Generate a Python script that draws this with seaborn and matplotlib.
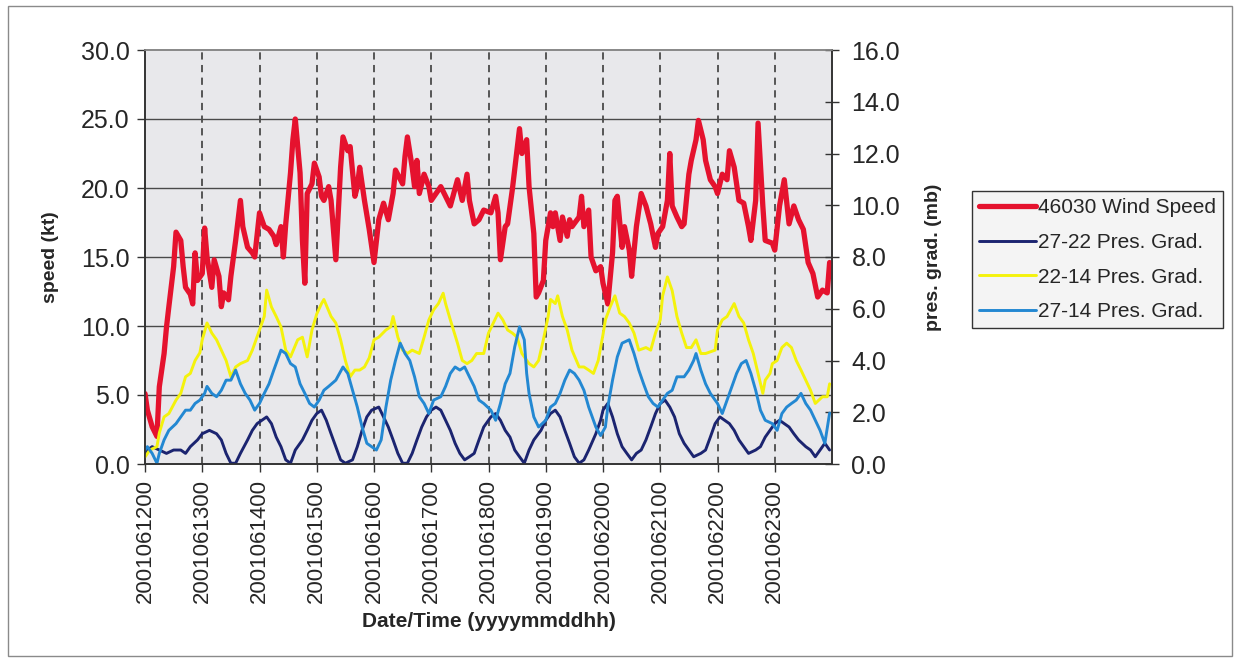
import matplotlib.pyplot as plt
import matplotlib.patches as mpatches
import seaborn as sns

# hours since 2001061200 and values
wind_hours = [0, 1, 3, 5, 6, 8, 9, 10, 12, 13, 15, 16, 17, 19, 20, 21, 22, 24, 25, 26, 28, 29, 31, 32, 33, 35, 36, 38, 40, 41,
              43, 45, 46, 48, 50, 52, 54, 55, 57, 58, 59, 61, 62, 63, 65, 66, 67, 68, 70, 71, 73, 74, 75, 77, 78, 80, 82, 83, 85, 86,
              88, 89, 90, 92, 94, 96, 98, 100, 102, 104, 105, 108, 109, 110, 112, 113, 114, 115, 117, 119, 120, 122, 124, 126, 128, 131, 133, 135, 136, 138,
              140, 142, 145, 147, 148, 149, 151, 152, 154, 156, 157, 158, 160, 161, 163, 164, 165, 167, 168, 170, 171, 172, 174, 175, 177, 178, 179, 182, 183, 184,
              186, 187, 189, 191, 192, 194, 196, 197, 198, 200, 201, 203, 204, 206, 208, 210, 212, 214, 215, 217, 219, 220, 221, 223, 225, 226, 228, 229, 231, 232,
              234, 235, 237, 239, 240, 242, 244, 245, 247, 249, 251, 253, 254, 256, 257, 259, 260, 263, 264, 266, 268, 270, 272, 274, 276, 278, 280, 282, 284, 286, 287]
wind_speed = [5.1, 3.9, 2.7, 2.0, 5.6, 8.0, 9.9, 11.4, 14.3, 16.8, 16.2, 14.3, 12.8, 12.3, 11.6, 15.3, 13.3, 13.8, 17.1, 15.0, 12.8, 14.8, 13.6, 11.4, 12.4, 11.9, 13.6, 16.2, 19.1, 17.2,
              15.7, 15.3, 15.0, 18.2, 17.2, 17.0, 16.5, 15.9, 17.2, 15.0, 17.4, 21.1, 23.5, 25.0, 21.1, 16.2, 13.1, 19.6, 20.3, 21.8, 20.8, 19.4, 19.1, 20.1, 19.1, 14.8, 21.5, 23.7, 22.7, 23.0,
              19.4, 20.1, 21.5, 19.1, 17.0, 14.6, 17.7, 18.9, 17.7, 19.6, 21.3, 20.3, 22.3, 23.7, 21.5, 20.1, 22.0, 19.6, 21.0, 20.1, 19.1, 19.6, 20.1, 19.4, 18.7, 20.6, 19.1, 21.0, 19.1, 17.4,
              17.7, 18.4, 18.2, 19.4, 18.2, 14.8, 17.2, 17.4, 19.9, 22.8, 24.3, 22.5, 23.5, 20.1, 16.7, 12.1, 12.4, 13.3, 16.2, 18.2, 17.2, 18.2, 16.2, 17.9, 16.5, 17.7, 17.2, 17.9, 19.4, 17.2,
              18.4, 15.0, 14.0, 14.3, 13.1, 11.6, 15.3, 19.1, 19.4, 15.7, 17.2, 15.5, 13.6, 17.2, 19.6, 18.7, 17.4, 15.7, 16.7, 17.2, 19.1, 22.5, 18.7, 17.9, 17.2, 17.4, 21.0, 22.0, 23.5, 24.9,
              23.5, 22.0, 20.6, 20.1, 19.6, 21.0, 20.6, 22.7, 21.5, 19.1, 18.9, 17.2, 16.2, 19.1, 24.7, 18.7, 16.2, 16.0, 15.5, 18.7, 20.6, 17.4, 18.7, 17.7, 17.0, 14.6, 13.8, 12.1, 12.6, 12.4, 14.6]

g2722_hours = [0, 1, 3, 6, 9, 12, 15, 17, 19, 22, 24, 27, 30, 32, 34, 36, 38, 40, 43, 45, 47, 49, 51, 53, 55, 57, 59, 61, 63, 66,
               68, 70, 72, 74, 76, 78, 80, 82, 84, 87, 89, 91, 93, 95, 98, 100, 102, 104, 106, 108, 110, 112, 114, 116, 118, 120, 122, 124, 126, 128,
               130, 132, 134, 136, 138, 140, 142, 145, 147, 149, 151, 153, 155, 157, 159, 161, 163, 166, 168, 170, 172, 174, 176, 178, 180, 182, 184, 186, 189, 191,
               192, 194, 196, 198, 200, 202, 204, 206, 208, 210, 212, 214, 216, 218, 220, 222, 224, 226, 228, 230, 233, 235, 237, 239, 241, 243, 245, 247, 249, 251,
               253, 256, 258, 260, 262, 264, 266, 268, 270, 272, 274, 277, 279, 281, 283, 285, 287]
g2722_grad = [0.41, 0.54, 0.67, 0.54, 0.41, 0.54, 0.54, 0.41, 0.67, 0.93, 1.17, 1.3, 1.17, 0.93, 0.41, 0.03, 0.03, 0.41, 0.93, 1.3, 1.56, 1.69, 1.82, 1.56, 1.04, 0.67, 0.16, 0.03, 0.54, 0.93,
              1.3, 1.69, 1.95, 2.08, 1.69, 1.17, 0.67, 0.16, 0.03, 0.16, 0.67, 1.3, 1.82, 2.08, 2.2, 1.82, 1.43, 0.93, 0.41, 0.03, 0.03, 0.41, 0.93, 1.43, 1.82, 2.08, 2.2, 2.08, 1.69, 1.3,
              0.8, 0.41, 0.16, 0.28, 0.41, 0.93, 1.43, 1.82, 1.95, 1.69, 1.3, 1.04, 0.54, 0.28, 0.03, 0.54, 0.93, 1.3, 1.69, 1.95, 2.08, 1.82, 1.3, 0.8, 0.28, 0.03, 0.16, 0.54, 1.17, 1.69,
              2.08, 2.34, 1.82, 1.17, 0.67, 0.41, 0.16, 0.41, 0.54, 0.93, 1.43, 1.95, 2.34, 2.47, 2.2, 1.82, 1.17, 0.8, 0.54, 0.28, 0.41, 0.54, 1.04, 1.56, 1.82, 1.69, 1.56, 1.3, 0.93, 0.67,
              0.41, 0.54, 0.67, 1.04, 1.3, 1.56, 1.69, 1.56, 1.43, 1.17, 0.93, 0.67, 0.54, 0.28, 0.54, 0.8, 0.54]

g2214_hours = [0, 2, 5, 6, 8, 10, 13, 15, 17, 19, 21, 23, 24, 26, 28, 30, 32, 34, 36, 38, 40, 43, 45, 48, 50, 51, 53, 55, 57, 59,
               61, 64, 66, 68, 70, 72, 74, 75, 78, 80, 82, 84, 86, 88, 90, 92, 94, 96, 98, 101, 103, 104, 106, 108, 110, 112, 115, 117, 119, 121,
               123, 125, 126, 128, 131, 133, 135, 137, 139, 142, 144, 146, 148, 150, 152, 154, 156, 158, 161, 163, 165, 167, 169, 170, 172, 173, 175, 177, 179, 182,
               184, 186, 188, 190, 192, 193, 195, 197, 199, 201, 203, 205, 207, 210, 212, 214, 216, 217, 219, 221, 223, 225, 227, 229, 231, 233, 235, 239, 240, 242,
               244, 247, 249, 251, 253, 255, 257, 259, 260, 262, 263, 265, 267, 269, 271, 273, 275, 277, 279, 281, 284, 286, 287]
g2214_grad = [0.27, 0.54, 0.67, 1.2, 1.82, 1.95, 2.47, 2.73, 3.37, 3.5, 4.0, 4.3, 4.8, 5.45, 5.06, 4.8, 4.4, 4.0, 3.37, 3.75, 3.88, 4.0, 4.4, 5.18, 5.7, 6.72, 6.07, 5.7, 5.3, 4.4,
              4.14, 4.8, 4.9, 4.14, 5.18, 5.8, 6.2, 6.36, 5.7, 5.45, 4.8, 4.0, 3.37, 3.63, 3.63, 3.75, 4.1, 4.8, 4.9, 5.18, 5.3, 5.7, 4.9, 4.4, 4.27, 4.4, 4.27, 4.9, 5.57, 5.96,
              6.2, 6.6, 6.2, 5.57, 4.67, 4.0, 3.88, 4.0, 4.27, 4.27, 5.06, 5.45, 5.83, 5.57, 5.18, 5.06, 4.9, 4.27, 3.88, 3.75, 4.0, 4.8, 5.7, 6.36, 6.2, 6.5, 5.7, 5.18, 4.4, 3.75,
              3.75, 3.63, 3.5, 4.0, 5.0, 5.57, 6.07, 6.5, 5.83, 5.7, 5.45, 5.06, 4.4, 4.5, 4.4, 5.06, 5.57, 6.5, 7.23, 6.7, 5.7, 5.06, 4.5, 4.5, 4.8, 4.27, 4.27, 4.4, 5.18, 5.57,
              5.7, 6.2, 5.7, 5.45, 4.8, 4.27, 3.5, 2.73, 3.24, 3.5, 3.88, 4.0, 4.5, 4.67, 4.5, 4.0, 3.63, 3.24, 2.85, 2.34, 2.6, 2.6, 3.1]

g2714_hours = [0, 1, 3, 5, 6, 8, 10, 13, 15, 17, 19, 21, 23, 25, 26, 28, 30, 32, 34, 36, 38, 40, 42, 44, 46, 48, 50, 52, 54, 57,
               59, 61, 63, 65, 67, 69, 71, 73, 75, 77, 80, 83, 85, 87, 89, 91, 93, 95, 97, 99, 101, 103, 105, 107, 109, 111, 113, 115, 117, 119,
               121, 124, 126, 128, 130, 132, 134, 136, 138, 140, 142, 145, 147, 149, 151, 153, 155, 157, 159, 160, 161, 163, 165, 168, 170, 172, 174, 176, 178, 180,
               182, 184, 186, 189, 191, 193, 194, 196, 198, 200, 203, 205, 207, 209, 211, 213, 215, 217, 219, 221, 223, 226, 228, 230, 231, 233, 235, 237, 240, 242,
               244, 246, 248, 250, 252, 254, 256, 258, 260, 263, 265, 267, 269, 271, 273, 275, 277, 279, 281, 283, 285, 287]
g2714_grad = [0.54, 0.67, 0.41, 0.03, 0.41, 0.93, 1.3, 1.56, 1.82, 2.08, 2.08, 2.34, 2.47, 2.73, 3.0, 2.73, 2.6, 2.85, 3.24, 3.24, 3.63, 3.1, 2.73, 2.47, 2.08, 2.34, 2.73, 3.1, 3.63, 4.4,
              4.27, 3.88, 3.75, 3.1, 2.73, 2.34, 2.2, 2.47, 2.85, 3.0, 3.24, 3.75, 3.5, 2.85, 2.2, 1.43, 0.8, 0.67, 0.54, 0.93, 2.2, 3.24, 4.0, 4.67, 4.27, 4.0, 3.37, 2.6, 2.34, 1.95,
              2.47, 2.6, 3.0, 3.5, 3.75, 3.63, 3.75, 3.37, 3.0, 2.47, 2.34, 2.08, 1.69, 2.34, 3.1, 3.5, 4.53, 5.3, 4.8, 3.5, 2.73, 1.82, 1.43, 1.69, 2.2, 2.34, 2.73, 3.24, 3.63, 3.5,
              3.24, 2.85, 2.2, 1.43, 1.1, 1.43, 2.2, 3.24, 4.14, 4.67, 4.8, 4.27, 3.63, 3.1, 2.6, 2.34, 2.2, 2.47, 2.73, 2.85, 3.37, 3.37, 3.63, 4.0, 4.27, 3.63, 3.1, 2.73, 2.34, 1.95,
              2.47, 3.0, 3.5, 3.88, 4.0, 3.5, 2.85, 2.08, 1.69, 1.56, 1.3, 1.95, 2.2, 2.34, 2.47, 2.73, 2.34, 2.08, 1.69, 1.3, 0.8, 1.97]

day_hours = [0, 24, 48, 72, 96, 120, 144, 168, 192, 216, 240, 264]
day_labels = ["2001061200", "2001061300", "2001061400", "2001061500", "2001061600", "2001061700",
              "2001061800", "2001061900", "2001062000", "2001062100", "2001062200", "2001062300"]
speed_ticks = [0, 5, 10, 15, 20, 25, 30]
grad_ticks = [0, 2, 4, 6, 8, 10, 12, 14, 16]

sns.set_theme(style="white")
plt.rcParams['font.family'] = ['Liberation Sans', 'DejaVu Sans']

fig = plt.figure(figsize=(12.4, 6.62), dpi=100)
fig.patch.set_facecolor('white')
fig.patches.append(mpatches.Rectangle((8 / 1240, 6 / 662), 1224 / 1240, 650 / 662, transform=fig.transFigure,
                                      fill=False, edgecolor='#8a8a8a', lw=1.0))

ax = fig.add_axes([145 / 1240, 1 - 464 / 662, 687 / 1240, 414 / 662])
ax.set_facecolor('#e8e8eb')
ax2 = ax.twinx()

sns.lineplot(x=wind_hours, y=wind_speed, ax=ax, color='#e5122e', lw=3.8, label='46030 Wind Speed', zorder=5)
sns.lineplot(x=g2722_hours, y=g2722_grad, ax=ax2, color='#1b2470', lw=2.1, label='27-22 Pres. Grad.')
sns.lineplot(x=g2214_hours, y=g2214_grad, ax=ax2, color='#f4f20c', lw=2.1, label='22-14 Pres. Grad.')
sns.lineplot(x=g2714_hours, y=g2714_grad, ax=ax2, color='#2388d2', lw=2.1, label='27-14 Pres. Grad.')

ax.set_xlim(0, 288)
ax.set_ylim(0, 30)
ax2.set_ylim(0, 16)

# grid: solid horizontal, dashed vertical
for v in speed_ticks[1:-1]:
    ax.axhline(v, color='#4a4a4a', lw=1.0, zorder=1)
for h in day_hours[1:]:
    ax.axvline(h, color='#4a4a4a', lw=1.3, ls=(0, (4, 3)), zorder=1)

ax.set_xticks(day_hours)
ax.set_xticklabels(day_labels, rotation=90, fontsize=16)
ax.set_yticks(speed_ticks)
ax.set_yticklabels([f"{v:.1f}" for v in speed_ticks], fontsize=18)
ax2.set_yticks(grad_ticks)
ax2.set_yticklabels([f"{v:.1f}" for v in grad_ticks], fontsize=18)

ax.tick_params(axis='both', direction='out', length=6, width=1, color='#333333', pad=5, left=True, bottom=True)
ax2.tick_params(axis='y', direction='inout', length=10, width=1, color='#333333', pad=9, right=True)

for s in ['left', 'bottom', 'right']:
    ax.spines[s].set_color('#333333')
    ax2.spines[s].set_color('#333333')
ax.spines['top'].set_color('#888888')
ax2.spines['top'].set_color('#888888')
for s in ax.spines.values():
    s.set_linewidth(1.2)
for s in ax2.spines.values():
    s.set_linewidth(1.2)

ax.set_ylabel('speed (kt)', fontsize=14, fontweight='bold', labelpad=16)
ax2.set_ylabel('pres. grad. (mb)', fontsize=14, fontweight='bold', labelpad=18)
ax.set_xlabel('Date/Time (yyyymmddhh)', fontsize=15, fontweight='bold', labelpad=6)

h1, l1 = ax.get_legend_handles_labels()
h2, l2 = ax2.get_legend_handles_labels()
ax.get_legend().remove()
ax2.get_legend().remove()
fig.legend(h1 + h2, l1 + l2, loc='upper left', bbox_to_anchor=(972 / 1240, 1 - 191 / 662),
           fontsize=15, frameon=True, fancybox=False, edgecolor='#333333', facecolor='#f4f4f4',
           framealpha=1, handlelength=2.7, handletextpad=0.1, labelspacing=0.75, borderpad=0.35,
           borderaxespad=0)

fig.savefig('out.png', dpi=100)
